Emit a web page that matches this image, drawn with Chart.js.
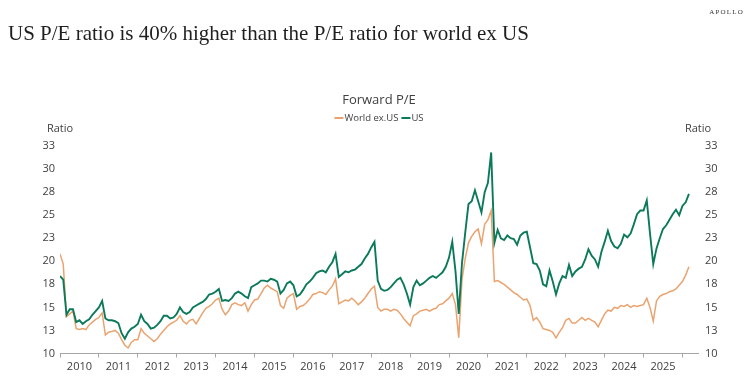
<!DOCTYPE html>
<html>
<head>
<meta charset="utf-8">
<script src="https://cdn.jsdelivr.net/npm/chart.js@4.4.1/dist/chart.umd.min.js"></script>
<style>
    html, body { margin: 0; padding: 0; background: #fff; }
    #wrap { position: relative; width: 750px; height: 385px; overflow: hidden; }
    #myChart { position: absolute; left: 0; top: 0; }
    #titulo { position: absolute; left: 8px; top: 21px; font-family: 'Liberation Serif', 'DejaVu Serif', serif; font-size: 21px; color: #1f1f1f; white-space: nowrap; }
    #marca { position: absolute; right: 6px; top: 8px; font-family: 'Liberation Serif', serif; font-size: 7px; letter-spacing: 1.2px; color: #333; }
</style>
</head>
<body>
<div id="wrap">
    <canvas id="myChart" width="750" height="385"></canvas>
    <div id="titulo">US P/E ratio is 40% higher than the P/E ratio for world ex US</div>
    <div id="marca">APOLLO</div>
</div>
<script>
// Forward P/E, one value per month starting Jan 2010
const usPe = [
    18.4, 18.0, 14.2, 14.8, 14.8, 13.4, 13.6, 13.2, 13.5, 13.7, 14.2, 14.6,
    15.0, 15.7, 13.8, 13.6, 13.6, 13.5, 13.3, 12.2, 11.6, 12.3, 12.7, 12.9,
    13.2, 14.2, 13.5, 13.2, 12.7, 12.8, 13.1, 13.5, 14.1, 14.1, 13.8, 13.9,
    14.3, 15.0, 14.5, 14.3, 14.5, 15.0, 15.2, 15.4, 15.6, 15.9, 16.4, 16.5,
    16.7, 17.0, 15.7, 15.8, 15.7, 16.0, 16.5, 16.7, 16.5, 16.2, 16.0, 17.2,
    17.4, 17.6, 17.9, 17.9, 17.8, 18.1, 18.0, 17.8, 16.5, 16.9, 17.6, 17.8,
    17.4, 16.2, 16.4, 16.9, 17.5, 17.8, 18.2, 18.7, 18.9, 19.0, 18.8, 19.4,
    19.9, 20.8, 18.3, 18.6, 18.9, 18.8, 19.0, 19.1, 19.4, 19.7, 20.3, 20.8,
    21.5, 22.1, 17.9, 17.0, 16.8, 16.9, 17.2, 17.6, 18.0, 18.2, 17.5, 16.5,
    15.3, 17.2, 17.9, 17.4, 17.6, 17.9, 18.2, 18.4, 18.2, 18.5, 18.8, 19.4,
    20.4, 22.1, 18.9, 14.3, 19.8, 23.1, 26.2, 26.5, 27.7, 26.5, 25.3, 27.5,
    28.5, 31.8, 22.0, 23.4, 22.5, 22.3, 22.8, 22.5, 22.4, 21.8, 22.8, 23.1,
    23.2, 21.5, 19.8, 19.7, 19.0, 17.5, 17.3, 19.0, 17.8, 16.4, 17.6, 18.4,
    18.2, 19.6, 18.4, 18.9, 19.2, 19.4, 20.2, 21.3, 20.6, 20.2, 19.4, 21.0,
    22.1, 23.3, 22.2, 21.6, 21.4, 21.9, 22.9, 22.6, 23.0, 24.0, 25.1, 25.5,
    25.5, 26.6, 23.0, 19.7, 21.4, 22.5, 23.5, 23.9, 24.5, 25.1, 25.6, 25.0,
    26.0, 26.4, 27.3
];

const worldPe = [
    20.8, 19.7, 14.0, 14.3, 14.6, 12.7, 12.6, 12.7, 12.6, 13.1, 13.4, 13.7,
    13.9, 14.4, 12.0, 12.3, 12.4, 12.5, 12.2, 11.5, 10.9, 10.6, 11.2, 11.5,
    11.5, 12.7, 12.2, 11.9, 11.6, 11.3, 11.6, 12.1, 12.5, 12.9, 13.2, 13.4,
    13.6, 14.1, 13.5, 13.2, 13.6, 13.7, 13.2, 13.8, 14.4, 14.9, 15.1, 15.4,
    15.8, 16.0, 14.8, 14.2, 14.6, 15.3, 15.5, 15.3, 15.2, 15.5, 14.6, 15.3,
    15.8, 15.9, 16.5, 17.1, 17.4, 17.1, 16.9, 16.7, 15.2, 14.9, 16.0, 16.3,
    16.5, 14.8, 15.1, 15.2, 15.5, 15.9, 16.4, 16.5, 16.7, 16.6, 16.4, 16.9,
    17.3, 18.1, 15.4, 15.6, 15.8, 15.7, 16.0, 15.7, 15.3, 15.6, 16.0, 16.5,
    17.0, 17.3, 15.0, 14.6, 14.8, 14.8, 14.6, 14.8, 14.7, 14.3, 13.8, 13.4,
    13.0, 14.1, 14.3, 14.6, 14.7, 14.8, 14.6, 14.8, 14.9, 15.3, 15.4, 15.7,
    16.0, 16.5, 15.3, 11.7, 18.0, 20.3, 22.0, 22.7, 23.2, 23.5, 21.9, 24.0,
    24.5, 25.5, 17.8, 17.9, 17.7, 17.5, 17.2, 16.9, 16.6, 16.4, 16.1, 15.8,
    15.9, 15.2, 13.6, 13.9, 13.4, 12.7, 12.6, 12.5, 12.3, 11.7, 12.3, 12.8,
    13.6, 13.8, 13.3, 13.3, 13.6, 13.9, 13.6, 13.8, 13.6, 13.4, 12.9, 13.6,
    14.3, 14.7, 14.6, 15.0, 14.9, 15.2, 15.1, 15.3, 15.0, 15.2, 15.1, 15.2,
    15.3, 16.0, 15.0, 13.5, 15.7, 16.2, 16.4, 16.5, 16.7, 16.8, 17.0, 17.4,
    17.8, 18.5, 19.4
];

// month positions in years (Jan 2010 = 2010.0)
const meses = usPe.map((_, i) => 2010 + i / 12);

const anios = [2010, 2011, 2012, 2013, 2014, 2015, 2016, 2017, 2018, 2019, 2020, 2021, 2022, 2023, 2024, 2025];
const cortesAnio = [2010, 2011, 2012, 2013, 2014, 2015, 2016, 2017, 2018, 2019, 2020, 2021, 2022, 2023, 2024, 2025, 2026];

const titulo = 'Forward P/E';
const ejeTitulo = 'Ratio';
const colorTexto = '#404040';
const fuente = '"Open Sans", sans-serif';

Chart.defaults.font.family = fuente;
Chart.defaults.color = colorTexto;

// chart title, legend and the two "Ratio" labels above the plot
const textoSuperior = {
    id: 'textoSuperior',
    afterDraw(chart) {
        const ctx = chart.ctx;
        const area = chart.chartArea;
        const cx = (area.left + area.right) / 2;
        ctx.save();
        ctx.fillStyle = colorTexto;
        ctx.textBaseline = 'middle';
        ctx.textAlign = 'center';
        ctx.font = '13px ' + fuente;
        ctx.fillText(titulo, cx, 100);

        ctx.font = '9.5px ' + fuente;
        const items = chart.data.datasets.map(ds => ({ label: ds.label, color: ds.borderColor }));
        const linea = 9;
        let total = 0;
        items.forEach((it, i) => {
            it.w = ctx.measureText(it.label).width;
            total += linea + 1 + it.w + (i < items.length - 1 ? 3 : 0);
        });
        let x = cx - total / 2;
        ctx.textAlign = 'left';
        items.forEach(it => {
            ctx.strokeStyle = it.color;
            ctx.lineWidth = 2;
            ctx.beginPath();
            ctx.moveTo(x, 118);
            ctx.lineTo(x + linea, 118);
            ctx.stroke();
            x += linea + 1;
            ctx.fillText(it.label, x, 118);
            x += it.w + 3;
        });

        ctx.font = '11px ' + fuente;
        ctx.textAlign = 'center';
        ctx.fillText(ejeTitulo, area.left, 129);
        ctx.fillText(ejeTitulo, area.right, 129);
        ctx.restore();
    }
};

const ctx = document.getElementById('myChart').getContext('2d');
new Chart(ctx, {
    type: 'line',
    data: {
        datasets: [{
            label: 'World ex.US',
            data: worldPe.map((v, i) => ({ x: meses[i], y: v })),
            borderColor: '#eaa36f',
            borderWidth: 1.5,
            pointRadius: 0,
            tension: 0,
            order: 1
        }, {
            label: 'US',
            data: usPe.map((v, i) => ({ x: meses[i], y: v })),
            borderColor: '#0b7a5a',
            borderWidth: 1.9,
            pointRadius: 0,
            tension: 0,
            order: 0
        }]
    },
    options: {
        responsive: false,
        animation: false,
        layout: {
            padding: { top: 146, bottom: 8.3, left: 0, right: 0 }
        },
        plugins: {
            legend: { display: false },
            title: { display: false },
            tooltip: { enabled: false }
        },
        scales: {
            x: {
                type: 'linear',
                min: 2010,
                max: 2026.4,
                afterBuildTicks: function(axis) {
                    axis.ticks = cortesAnio.map(v => ({ value: v }));
                },
                ticks: { display: false },
                grid: { drawOnChartArea: false, drawTicks: true, tickLength: 4, color: '#a6a6a6' },
                border: { color: '#a6a6a6' }
            },
            x2: {
                type: 'linear',
                position: 'bottom',
                min: 2010,
                max: 2026.4,
                afterBuildTicks: function(axis) {
                    axis.ticks = anios.map(v => ({ value: v + 0.5 }));
                },
                ticks: {
                    callback: v => Math.floor(v),
                    autoSkip: false,
                    maxRotation: 0,
                    padding: 3,
                    font: { size: 11 }
                },
                grid: { display: false, drawTicks: false },
                border: { display: false }
            },
            y: {
                position: 'left',
                min: 10,
                max: 32.5,
                ticks: { stepSize: 2.5, callback: v => Math.round(v), padding: 5, font: { size: 11 } },
                grid: { display: false, drawTicks: false },
                border: { display: false },
                afterFit: function(axis) { axis.width = 60; }
            },
            y2: {
                position: 'right',
                min: 10,
                max: 32.5,
                ticks: { stepSize: 2.5, callback: v => Math.round(v), padding: 7, font: { size: 11 } },
                grid: { display: false, drawTicks: false },
                border: { display: false },
                afterFit: function(axis) { axis.width = 52; }
            }
        }
    },
    plugins: [textoSuperior]
});
</script>
</body>
</html>
